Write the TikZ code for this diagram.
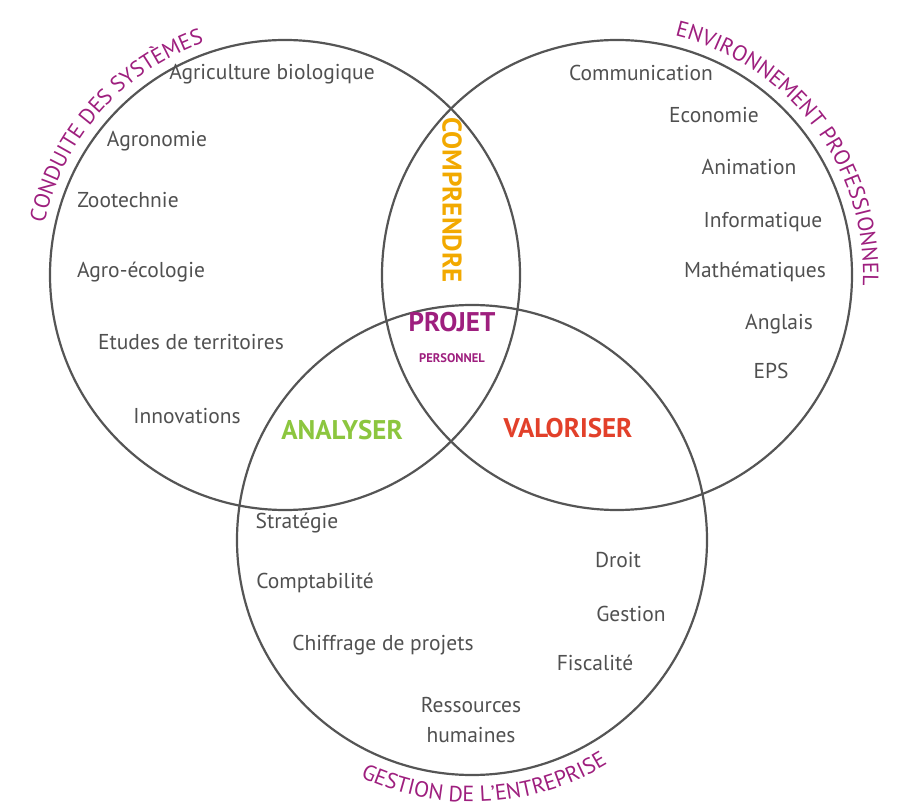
\documentclass[tikz,border=0pt]{standalone}
\usepackage{fontspec}
\setmainfont{PT Sans}
\usetikzlibrary{decorations.text,calc}
\definecolor{ringgray}{HTML}{555555}
\definecolor{txtgray}{HTML}{505050}
\definecolor{plum}{HTML}{9E1F7E}
\definecolor{amber}{HTML}{F2A900}
\definecolor{leaf}{HTML}{8CC63F}
\definecolor{brick}{HTML}{E2402A}
\begin{document}
\begin{tikzpicture}[x=1pt,y=1pt]
\tikzset{ring/.style={draw=ringgray,line width=2.2pt},
  topic/.style={text=txtgray,font=\fontsize{21.5}{23}\selectfont,inner sep=0pt},
  verb/.style={font=\fontsize{27}{29}\selectfont\bfseries,inner sep=0pt},
  arclabel/.style={decoration={text along path,text align=center,
    text={|\fontsize{22}{24}\selectfont\color{plum}|#1}},decorate}}
\useasboundingbox (0,0) rectangle (913,807);
% the three rings
\coordinate (cs) at (285,532);
\coordinate (ep) at (617,532);
\coordinate (ge) at (472,267);
\draw [ring] (cs) circle (235);
\draw [ring] (ep) circle (235);
\draw [ring] (ge) circle (235);
% curved titles
\path [arclabel={CONDUITE DES SYSTÈMES}] ($(cs)+(171:246)$) arc (171:106:246);
\path [arclabel={ENVIRONNEMENT PROFESSIONNEL}] ($(ep)+(80:246)$) arc (80:-6:246);
\path [arclabel={GESTION DE L'ENTREPRISE}] ($(ge)+(242:262)$) arc (242:304:262);
% left ring
\node [topic] (agb) at (272,733) {Agriculture biologique};
\node [topic] (agr) at (157,666) {Agronomie};
\node [topic] (zoo) at (128,607) {Zootechnie};
\node [topic] (eco) at (141,535) {Agro-écologie};
\node [topic] (ter) at (191,465) {Etudes de territoires};
\node [topic] (inn) at (187,391) {Innovations};
% right ring
\node [topic] (com) at (641,734) {Communication};
\node [topic] (ecn) at (714,692) {Economie};
\node [topic] (ani) at (749,640) {Animation};
\node [topic] (inf) at (763,585) {Informatique};
\node [topic] (mat) at (755,535) {Mathématiques};
\node [topic] (ang) at (779,483) {Anglais};
\node [topic] (eps) at (771,436) {EPS};
% bottom ring
\node [topic] (str) at (297,284) {Stratégie};
\node [topic] (cpt) at (315,224) {Comptabilité};
\node [topic] (chf) at (383,162) {Chiffrage de projets};
\node [topic] (drt) at (618,247) {Droit};
\node [topic] (ges) at (631,193) {Gestion};
\node [topic] (fis) at (595,144) {Fiscalité};
\node [topic] (rh1) at (471,102) {Ressources};
\node [topic] (rh2) at (471,72) {humaines};
% overlaps
\node [verb,text=amber,rotate=-90] (cmp) at (452,607) {COMPRENDRE};
\node [verb,text=plum] (prj) at (452,485) {PROJET};
\node [text=plum,font=\fontsize{12.5}{13}\selectfont\bfseries,inner sep=0pt] (per) at (452,449) {PERSONNEL};
\node [verb,text=leaf] (ana) at (342,377) {ANALYSER};
\node [verb,text=brick] (val) at (568,379) {VALORISER};
\end{tikzpicture}
\end{document}
